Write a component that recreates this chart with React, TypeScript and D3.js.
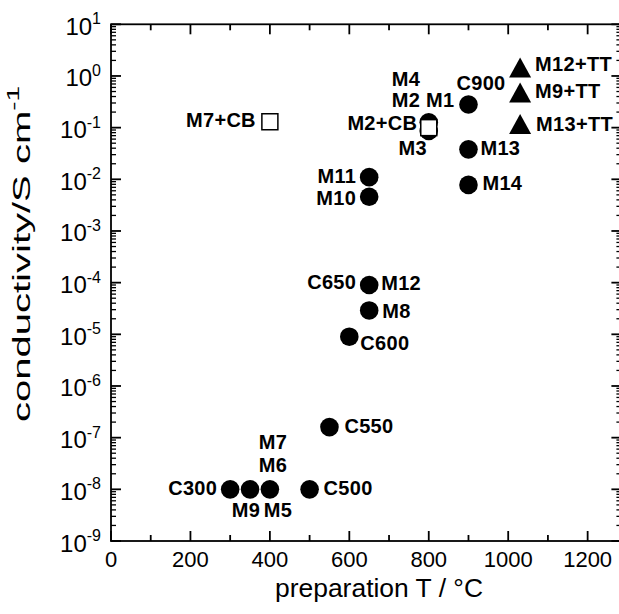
import React from 'react';
import * as d3 from 'd3';

// conductivity vs preparation temperature
const circles = [
  { id: 'C300', T: 300, s: 1e-8 },
  { id: 'M9', T: 350, s: 1e-8 },
  { id: 'M5', T: 400, s: 1e-8 },
  { id: 'C500', T: 500, s: 1e-8 },
  { id: 'C550', T: 550, s: 1.6e-7 },
  { id: 'C600', T: 600, s: 9e-6 },
  { id: 'M8', T: 650, s: 2.9e-5 },
  { id: 'C650', T: 650, s: 9e-5 },
  { id: 'M10', T: 650, s: 4.6e-3 },
  { id: 'M11', T: 650, s: 1.1e-2 },
  { id: 'M1', T: 800, s: 0.127 },
  { id: 'M3', T: 800, s: 0.086 },
  { id: 'C900', T: 900, s: 0.28 },
  { id: 'M13', T: 900, s: 0.038 },
  { id: 'M14', T: 900, s: 0.0078 },
];
const squares = [
  { id: 'M7+CB', T: 400, s: 0.13 },
  { id: 'M2+CB', T: 800, s: 0.1 },
];
const triangles = [
  { id: 'M12+TT', T: 1030, s: 1.46 },
  { id: 'M9+TT', T: 1030, s: 0.48 },
  { id: 'M13+TT', T: 1030, s: 0.117 },
];
// label text -> point it belongs to
const labels = [
  { text: 'C300', at: 'C300' },
  { text: 'M9', at: 'M9' },
  { text: 'M5', at: 'M5' },
  { text: 'M6', at: 'M5' },
  { text: 'M7', at: 'M5' },
  { text: 'C500', at: 'C500' },
  { text: 'C550', at: 'C550' },
  { text: 'C600', at: 'C600' },
  { text: 'M8', at: 'M8' },
  { text: 'M12', at: 'C650' },
  { text: 'C650', at: 'C650' },
  { text: 'M10', at: 'M10' },
  { text: 'M11', at: 'M11' },
  { text: 'C900', at: 'C900' },
  { text: 'M13', at: 'M13' },
  { text: 'M14', at: 'M14' },
  { text: 'M4', at: 'M1' },
  { text: 'M2 M1', at: 'M1' },
  { text: 'M2+CB', at: 'M2+CB' },
  { text: 'M3', at: 'M3' },
  { text: 'M7+CB', at: 'M7+CB' },
  { text: 'M12+TT', at: 'M12+TT' },
  { text: 'M9+TT', at: 'M9+TT' },
  { text: 'M13+TT', at: 'M13+TT' },
];
const xTicks = [0, 200, 400, 600, 800, 1000, 1200];
const yExponents = [1, 0, -1, -2, -3, -4, -5, -6, -7, -8, -9];

// where each label sits relative to its point (px)
const place: Record<string, [string, number, number]> = {
  C300: ['end', -13, 6],
  M9: ['middle', -4, 28],
  M5: ['middle', 8, 28],
  M6: ['middle', 3, -17],
  M7: ['middle', 3, -40],
  C500: ['start', 14, 6],
  C550: ['start', 15, 6],
  C600: ['start', 11, 13],
  M8: ['start', 13, 8],
  M12: ['start', 12, 5],
  C650: ['end', -13, 4],
  M10: ['end', -13, 8],
  M11: ['end', -13, 6],
  C900: ['start', -12, -15],
  M13: ['start', 12, 6],
  M14: ['start', 14, 5],
  M4: ['start', -37, -36],
  'M2 M1': ['start', -37, -15.5],
  'M2+CB': ['end', -11.5, 2.5],
  M3: ['middle', -16, 24],
  'M7+CB': ['end', -14, 5],
  'M12+TT': ['start', 15, 3.5],
  'M9+TT': ['start', 15, 5.5],
  'M13+TT': ['start', 16, 7],
};

export default function App() {
  const left = 111, right = 621.4, top = 24.3, bottom = 541;
  const x = d3.scaleLinear().domain([0, 1285]).range([left, right]);
  const y = d3.scaleLog().domain([1e-9, 10]).range([bottom, top]);

  const all = [...circles, ...squares, ...triangles];
  const byId: Record<string, { T: number; s: number }> = {};
  all.forEach(d => (byId[d.id] = d));

  const xMinor = d3.range(100, 1285, 200);
  const yMinor: number[] = [];
  for (let e = -9; e < 1; e++) for (let k = 2; k < 10; k++) yMinor.push(k * Math.pow(10, e));

  const ax = { stroke: '#000', strokeWidth: 1.8 };
  const font = 'Arial, "Liberation Sans", Helvetica, sans-serif';
  const tri = 'M0,-10L11,10L-11,10Z';

  return (
    <svg width={619} height={614} style={{ position: 'absolute', left: 0, top: 0, background: '#fff' }}
      fontFamily={font}>
      <rect x={0} y={0} width={619} height={614} fill="#fff" />
      {/* ticks */}
      {xTicks.map(t => (
        <g key={'xt' + t}>
          <line x1={x(t)} x2={x(t)} y1={bottom} y2={bottom - 10} {...ax} />
          <line x1={x(t)} x2={x(t)} y1={top} y2={top + 10} {...ax} />
        </g>
      ))}
      {xMinor.map(t => (
        <g key={'xm' + t}>
          <line x1={x(t)} x2={x(t)} y1={bottom} y2={bottom - 6} {...ax} />
          <line x1={x(t)} x2={x(t)} y1={top} y2={top + 6} {...ax} />
        </g>
      ))}
      {yExponents.map(e => (
        <g key={'yt' + e}>
          <line x1={left} x2={left + 10} y1={y(Math.pow(10, e))} y2={y(Math.pow(10, e))} {...ax} />
          <line x1={right} x2={right - 10} y1={y(Math.pow(10, e))} y2={y(Math.pow(10, e))} {...ax} />
        </g>
      ))}
      {yMinor.map((v, i) => (
        <g key={'ym' + i}>
          <line x1={left} x2={left + 5} y1={y(v)} y2={y(v)} {...ax} strokeWidth={1.3} />
          <line x1={right} x2={right - 5} y1={y(v)} y2={y(v)} {...ax} strokeWidth={1.3} />
        </g>
      ))}
      <rect x={left} y={top} width={right - left} height={bottom - top} fill="none" {...ax} />

      {/* tick labels */}
      {xTicks.map(t => (
        <text key={'xl' + t} x={x(t)} y={567} fontSize={22} textAnchor="middle">{t}</text>
      ))}
      {yExponents.map(e => (
        <text key={'yl' + e} x={101} y={y(Math.pow(10, e)) + 10.5} fontSize={24} textAnchor="end">
          10<tspan fontSize={16} dy={-10.5}>{e}</tspan>
        </text>
      ))}

      {/* axis titles */}
      <text x={379} y={597} fontSize={25} textAnchor="middle" textLength={208}
        lengthAdjust="spacingAndGlyphs">preparation T / °C</text>
      <text transform="translate(29.5,254) rotate(-90)" fontSize={23} textAnchor="middle"
        textLength={336} lengthAdjust="spacingAndGlyphs">
        conductivity/S cm<tspan fontSize={16} dy={-11}>-1</tspan>
      </text>

      {/* markers */}
      {circles.map(d => (
        <circle key={d.id} cx={x(d.T)} cy={y(d.s)} r={9.3} fill="#000" />
      ))}
      {squares.map(d => (
        <rect key={d.id} x={x(d.T) - 8} y={y(d.s) - 8} width={16} height={16} fill="#fff" stroke="#000" strokeWidth={1.5} />
      ))}
      {triangles.map(d => (
        <path key={d.id} d={tri} transform={`translate(${x(d.T)},${y(d.s)})`} fill="#000" />
      ))}

      {/* point labels */}
      {labels.map(l => {
        const p = byId[l.at];
        const [anchor, dx, dy] = place[l.text];
        return (
          <text key={l.text} x={x(p.T) + dx} y={y(p.s) + dy} fontSize={20} fontWeight="bold"
            letterSpacing={0.3} textAnchor={anchor as any}>{l.text}</text>
        );
      })}
    </svg>
  );
}
